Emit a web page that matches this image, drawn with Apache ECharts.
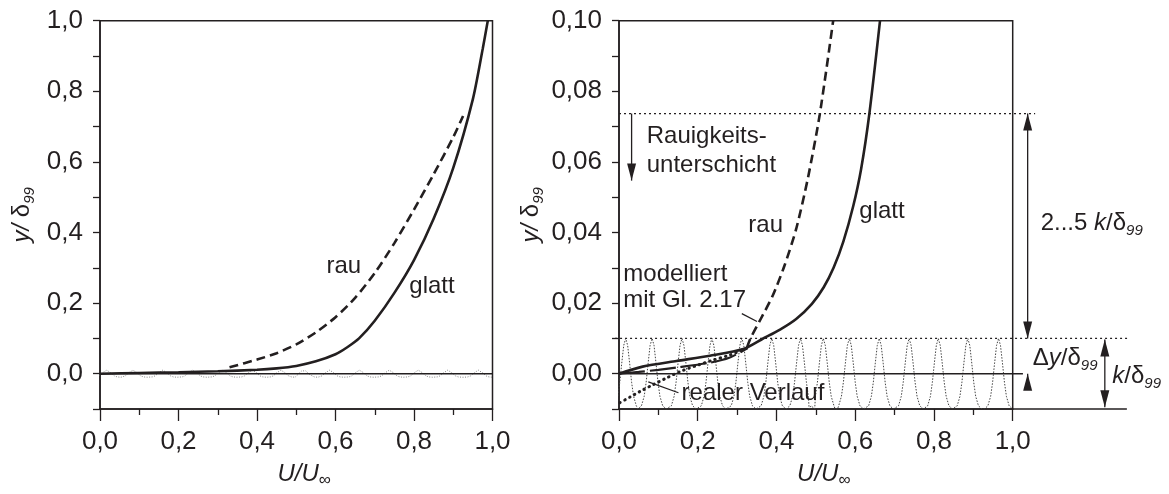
<!DOCTYPE html>
<html>
<head>
<meta charset="utf-8">
<script src="https://cdn.jsdelivr.net/npm/echarts@6/dist/echarts.min.js"></script>
<style>
  html, body { margin: 0; padding: 0; background: #fff; }
  #chart { width: 1169px; height: 494px; }
</style>
</head>
<body>
<div id="chart"></div>
<script>
// left panel: whole boundary layer, [U/Uinf, y/delta99]
const glattFull = [[0, 0], [0.1, 0.002], [0.2, 0.004], [0.3, 0.007], [0.4, 0.011], [0.45, 0.015],
  [0.5, 0.022], [0.55, 0.035], [0.6, 0.055], [0.63, 0.075], [0.66, 0.1], [0.7, 0.15],
  [0.75, 0.229], [0.8, 0.322], [0.85, 0.439], [0.9, 0.583], [0.95, 0.778], [0.975, 0.92], [0.988, 1.0]];
const rauFull = [[0.33, 0.018], [0.4, 0.04], [0.45, 0.058], [0.5, 0.083], [0.55, 0.117], [0.6, 0.16],
  [0.65, 0.215], [0.7, 0.285], [0.75, 0.37], [0.8, 0.465], [0.85, 0.565], [0.9, 0.67], [0.925, 0.73]];

// right panel: near-wall region
const glattWall = [[0, 0], [0.06, 0.002], [0.146, 0.0036], [0.231, 0.0051], [0.316, 0.007], [0.365, 0.0099],
  [0.409, 0.0125], [0.45, 0.0155], [0.49, 0.0198], [0.52, 0.0245], [0.545, 0.03], [0.57, 0.0375],
  [0.595, 0.0475], [0.615, 0.058], [0.636, 0.0737], [0.663, 0.1]];
const rauWall = [[0.325, 0.0074], [0.334, 0.01], [0.36, 0.0155], [0.39, 0.022], [0.42, 0.0305],
  [0.45, 0.041], [0.48, 0.0555], [0.51, 0.0735], [0.544, 0.1]];
const modelliertWall = [[0, 0], [0.05, 0.0005], [0.1, 0.0011], [0.15, 0.0018], [0.23, 0.0031],
  [0.28, 0.0045], [0.325, 0.0071]];
const realWall = [[0.0025, -0.0082], [0.028, -0.0066], [0.062, -0.0045], [0.087, -0.0031], [0.121, -0.0012],
  [0.155, 0.0006], [0.197, 0.0023], [0.24, 0.0039], [0.282, 0.0053], [0.324, 0.0072]];

// roughness elements: peak positions and the outline of one peak (offset in U, height)
const roughPeaks = [0.017, 0.084, 0.16, 0.236, 0.312, 0.388, 0.461, 0.519, 0.585, 0.661, 0.737, 0.811, 0.886, 0.964];
const roughShape = [[-0.036, -0.01], [-0.027, -0.0091], [-0.02, -0.0064], [-0.015, -0.0024], [-0.01, 0.003],
  [-0.005, 0.008], [0, 0.01], [0.005, 0.008], [0.01, 0.003], [0.015, -0.0024], [0.02, -0.0064],
  [0.027, -0.0091], [0.036, -0.01]];

const ink = '#231f20';
const fontFamily = '"Liberation Sans", Arial, sans-serif';

let roughData = [];
roughPeaks.forEach((p) => {
  roughShape.forEach((s) => {
    roughData.push([+(p + s[0]).toFixed(4), s[1]]);
  });
});
roughData.sort((a, b) => a[0] - b[0]);

const subRich = {
  i: { fontStyle: 'italic', fontSize: 24, fontFamily: fontFamily, color: ink, lineHeight: 30 },
  n: { fontSize: 24, fontFamily: fontFamily, color: ink, lineHeight: 30 },
  s: { fontStyle: 'italic', fontSize: 15, fontFamily: fontFamily, color: ink, lineHeight: 14, verticalAlign: 'bottom' },
  o: { fontSize: 17, fontFamily: fontFamily, color: ink, lineHeight: 14, verticalAlign: 'bottom' },
};

function makeX(gridIndex) {
  return {
    type: 'value',
    gridIndex: gridIndex,
    min: 0,
    max: 1,
    interval: 0.2,
    name: '{i|U/U}{o|∞}',
    nameLocation: 'middle',
    nameGap: 50,
    nameTextStyle: { padding: [0, 0, 0, 16], rich: subRich },
    axisLine: { onZero: false, lineStyle: { color: ink, width: 1.5 } },
    axisTick: { length: 12, lineStyle: { color: ink, width: 1.3 } },
    minorTick: { show: true, splitNumber: 2, length: 6, lineStyle: { color: ink, width: 1.3 } },
    splitLine: { show: false },
    axisLabel: {
      margin: 20,
      color: ink,
      fontSize: 26,
      fontFamily: fontFamily,
      formatter: (v) => v.toFixed(1).replace('.', ','),
    },
  };
}

function makeY(gridIndex, min, max, step, digits, nameGap) {
  return {
    type: 'value',
    gridIndex: gridIndex,
    min: min,
    max: max,
    interval: step,
    name: '{i|y/}{n| δ}{s|99}',
    nameLocation: 'middle',
    nameGap: nameGap,
    nameTextStyle: { rich: subRich },
    axisLine: { onZero: false, lineStyle: { color: ink, width: 1.5 } },
    axisTick: { length: 7, lineStyle: { color: ink, width: 1.3 } },
    splitLine: { show: false },
    axisLabel: {
      margin: 17,
      color: ink,
      fontSize: 26,
      fontFamily: fontFamily,
      formatter: (v) => {
        const n = Math.round(v / step);
        if (n % 2 !== 0 || v < -1e-9) return '';
        return v.toFixed(digits).replace('.', ',');
      },
    },
  };
}

function curve(idx, data, width, dash, extra) {
  return Object.assign({
    type: 'line',
    xAxisIndex: idx,
    yAxisIndex: idx,
    data: data,
    showSymbol: false,
    smooth: 0.25,
    silent: true,
    z: 3,
    lineStyle: { color: ink, width: width, type: dash },
  }, extra || {});
}

const option = {
  animation: false,
  backgroundColor: '#fff',
  grid: [
    { left: 100, top: 20.7, width: 392.5, height: 393.8, show: true, borderColor: ink, borderWidth: 1.5 },
    { left: 619, top: 20.7, width: 393.7, height: 394.3, show: true, borderColor: ink, borderWidth: 1.5 },
  ],
  xAxis: [makeX(0), makeX(1)],
  yAxis: [makeY(0, -0.1, 1.0, 0.1, 1, 63), makeY(1, -0.01, 0.1, 0.01, 2, 73)],
  series: [
    curve(0, roughData, 1, [1.5, 1.5], { smooth: false, z: 1, lineStyle: { color: '#777', width: 0.9, type: [1, 1.5] } }),
    curve(1, roughData, 1, [1.5, 1.5], { smooth: false, z: 1, lineStyle: { color: '#444', width: 1, type: [1.5, 1.5] } }),
    curve(0, glattFull, 2.6, 'solid'),
    curve(0, rauFull, 2.6, [9, 5]),
    curve(1, glattWall, 2.6, 'solid'),
    curve(1, rauWall, 2.6, [9, 5]),
    curve(1, modelliertWall, 2.2, [26, 5]),
    curve(1, realWall, 3, [0.5, 5], { lineStyle: { color: ink, width: 3, type: [0.5, 5], cap: 'round' } }),
  ],
};

const chart = echarts.init(document.getElementById('chart'));
chart.setOption(option);

function px(g, u, y) {
  return chart.convertToPixel({ gridIndex: g }, [u, y]);
}

let graphics = [];

function seg(g, u1, y1, u2, y2, dash, width) {
  const a = px(g, u1, y1);
  const b = px(g, u2, y2);
  graphics.push({
    type: 'line',
    silent: true,
    z: 10,
    shape: { x1: a[0], y1: a[1], x2: b[0], y2: b[1] },
    style: { stroke: ink, lineWidth: width || 1.3, lineDash: dash || null },
  });
}

function head(g, u, y, dir) {
  const t = px(g, u, y);
  const d = dir === 'up' ? 17 : -17;
  graphics.push({
    type: 'polygon',
    silent: true,
    z: 11,
    shape: { points: [[t[0], t[1]], [t[0] - 4.5, t[1] + d], [t[0] + 4.5, t[1] + d]] },
    style: { fill: ink },
  });
}

function text(g, u, y, str, size) {
  const p = px(g, u, y);
  const fs = size || 24;
  graphics.push({
    type: 'text',
    silent: true,
    z: 12,
    x: p[0],
    y: p[1] - 0.35 * fs,
    style: {
      text: str,
      rich: subRich,
      font: fs + 'px ' + fontFamily,
      fill: ink,
      align: 'left',
      verticalAlign: 'middle',
    },
  });
}

// left panel: wall line and labels
seg(0, 0, 0, 1, 0, null, 1.5);
text(0, 0.577, 0.28, 'rau');
text(0, 0.788, 0.223, 'glatt');

// right panel: wall, layer limits
seg(1, 0, 0, 1.026, 0, null, 1.5);
seg(1, 1, -0.01, 1.29, -0.01, null, 1.5);
seg(1, 0, 0.0737, 1.057, 0.0737, [2, 3], 1.2);
seg(1, -0.01, 0.01, 1.293, 0.01, [2, 3], 1.2);

// arrows
seg(1, 0.032, 0.0737, 0.032, 0.0547);
head(1, 0.032, 0.0547, 'down');
seg(1, 1.038, 0.0737, 1.038, 0.01);
head(1, 1.038, 0.0737, 'up');
head(1, 1.038, 0.01, 'down');
seg(1, 1.038, -0.0039, 1.038, 0);
head(1, 1.038, 0, 'up');
seg(1, 1.234, 0.0097, 1.234, -0.0095);
head(1, 1.234, 0.0097, 'up');
head(1, 1.234, -0.0095, 'down');

// leader lines
seg(1, 0.312, 0.017, 0.3505, 0.0148);
seg(1, 0.151, -0.0054, 0.0744, -0.0023);

// labels
text(1, 0.0704, 0.0649, 'Rauigkeits-');
text(1, 0.0704, 0.0567, 'unterschicht');
text(1, 0.3284, 0.0397, 'rau');
text(1, 0.6104, 0.0437, 'glatt');
text(1, 0.0109, 0.0258, 'modelliert');
text(1, 0.0109, 0.0184, 'mit Gl. 2.17');
text(1, 0.159, -0.0079, 'realer Verlauf');
text(1, 1.071, 0.0402, '{n|2...5 }{i|k}{n|/δ}{s|99}');
text(1, 1.051, 0.002, '{n|Δ}{i|y}{n|/δ}{s|99}');
text(1, 1.253, -0.0031, '{i|k}{n|/δ}{s|99}');

chart.setOption({ graphic: graphics });
</script>
</body>
</html>
